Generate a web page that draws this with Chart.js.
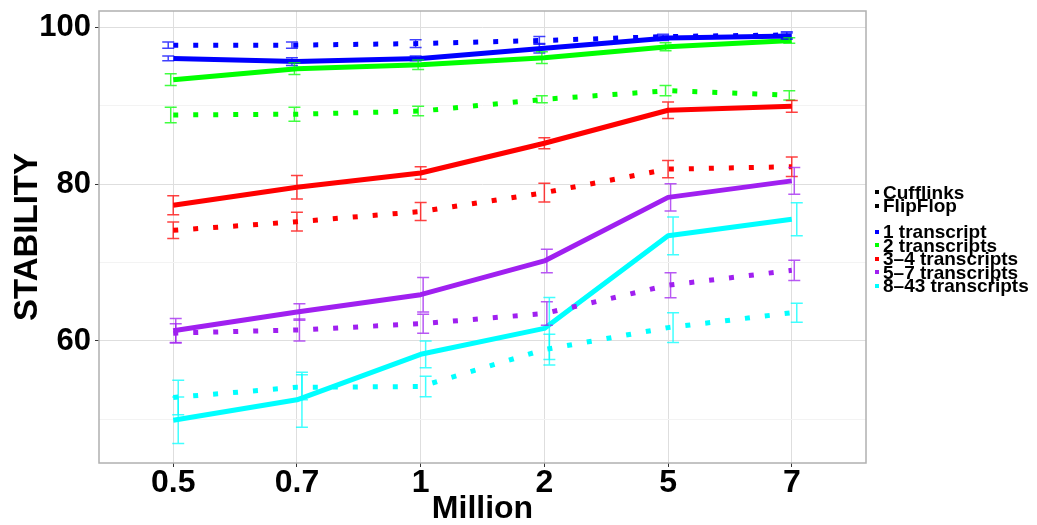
<!DOCTYPE html>
<html>
<head>
<meta charset="utf-8">
<script src="https://cdn.jsdelivr.net/npm/chart.js@4.4.0/dist/chart.umd.min.js"></script>
<style>
  body { margin: 0; background: #fff; }
  #wrap { position: relative; width: 1037px; height: 525px; font-family: 'Liberation Sans', Arial, sans-serif; }
  .key { position: absolute; left: 883px; font-weight: bold; font-size: 19px; line-height: 19px; white-space: nowrap; color: #000; }
  .sq { position: absolute; left: 875px; width: 4px; height: 4px; }
</style>
</head>
<body>
<div id="wrap">
  <canvas id="stabilityChart" width="1037" height="525"></canvas>
  <div id="legend"></div>
</div>
<script>
// Read-depth categories (x axis) and y axis ticks
const millions = ['0.5', '0.7', '1', '2', '5', '7'];
const yGrid = [50, 60, 70, 80, 90, 100];
const yLabels = [60, 80, 100];

const methods = ['Cufflinks', 'FlipFlop'];
const groups = ['1 transcript', '2 transcripts', '3–4 transcripts', '5–7 transcripts', '8–43 transcripts'];
const groupColors = ['#0000ff', '#00ff00', '#ff0000', '#a020f0', '#00ffff'];

// Cufflinks (solid) and FlipFlop (dotted) stability, with error half-widths
const cuff1 = [96.0, 95.6, 96.0, 97.3, 98.6, 98.85];
const cuff1Err = [0.3, 0.5, 0.3, 0.6, 0.3, 0.4];
const ff1 = [97.7, 97.7, 97.9, 98.3, 98.8, 99.0];
const ff1Err = [0.4, 0.4, 0.5, 0.5, 0.3, 0.4];

const cuff2 = [93.3, 94.7, 95.2, 96.1, 97.5, 98.3];
const cuff2Err = [0.75, 0.75, 0.6, 0.75, 0.5, 0.35];
const ff2 = [88.8, 88.9, 89.3, 90.8, 91.9, 91.3];
const ff2Err = [1.0, 0.9, 0.6, 0.45, 0.65, 0.6];

const cuff34 = [77.3, 79.6, 81.4, 85.2, 89.4, 89.9];
const cuff34Err = [1.2, 1.5, 0.8, 0.7, 1.05, 0.75];
const ff34 = [74.1, 75.2, 76.5, 78.9, 81.9, 82.2];
const ff34Err = [1.05, 1.2, 1.15, 1.2, 1.1, 1.25];

const cuff57 = [61.3, 63.7, 65.9, 70.2, 78.3, 80.4];
const cuff57Err = [1.55, 1.05, 2.2, 1.5, 1.75, 1.7];
const ff57 = [61.0, 61.4, 62.2, 63.5, 67.1, 69.0];
const ff57Err = [1.2, 1.4, 1.2, 1.5, 1.6, 1.3];

const cuff843 = [49.9, 52.5, 58.3, 61.6, 73.4, 75.5];
const cuff843Err = [2.95, 3.5, 1.7, 3.95, 2.4, 2.1];
const ff843 = [52.8, 54.1, 54.2, 58.9, 61.7, 63.6];
const ff843Err = [2.2, 1.6, 1.3, 1.95, 1.9, 1.2];

const cuffValues = [cuff1, cuff2, cuff34, cuff57, cuff843];
const cuffErrors = [cuff1Err, cuff2Err, cuff34Err, cuff57Err, cuff843Err];
const ffValues = [ff1, ff2, ff34, ff57, ff843];
const ffErrors = [ff1Err, ff2Err, ff34Err, ff57Err, ff843Err];

const FONT = "'Liberation Sans', Arial, sans-serif";
Chart.defaults.font.family = FONT;

// build datasets: one solid + one dotted line per transcript group
const datasets = [];
groups.forEach((g, k) => {
  const dodge = (k - 2) * 2.5;
  datasets.push({
    label: 'Cufflinks ' + g,
    data: cuffValues[k].map((v, i) => ({ x: i, y: v })),
    err: cuffErrors[k],
    dodge: dodge,
    borderColor: groupColors[k],
    borderWidth: 5,
    pointRadius: 0,
    tension: 0,
    borderJoinStyle: 'round'
  });
  datasets.push({
    label: 'FlipFlop ' + g,
    data: ffValues[k].map((v, i) => ({ x: i, y: v })),
    err: ffErrors[k],
    dodge: dodge,
    borderColor: groupColors[k],
    borderWidth: 5,
    borderDash: [5, 15],
    borderCapStyle: 'butt',
    pointRadius: 0,
    tension: 0
  });
});

const errorBars = {
  id: 'errorBars',
  afterDatasetsDraw(chart) {
    const { ctx, scales: { x, y } } = chart;
    ctx.save();
    ctx.lineWidth = 1.5;
    ctx.globalAlpha = 0.75;
    chart.data.datasets.forEach(ds => {
      ctx.strokeStyle = ds.borderColor;
      ds.data.forEach((p, i) => {
        const px = x.getPixelForValue(p.x) + ds.dodge;
        const top = y.getPixelForValue(p.y + ds.err[i]);
        const bot = y.getPixelForValue(p.y - ds.err[i]);
        ctx.beginPath();
        ctx.moveTo(px, top); ctx.lineTo(px, bot);
        ctx.moveTo(px - 6, top); ctx.lineTo(px + 6, top);
        ctx.moveTo(px - 6, bot); ctx.lineTo(px + 6, bot);
        ctx.stroke();
      });
    });
    ctx.restore();
  }
};

const panelBorder = {
  id: 'panelBorder',
  afterDraw(chart) {
    const { ctx, chartArea: a } = chart;
    ctx.save();
    ctx.strokeStyle = '#b0b0b0';
    ctx.lineWidth = 1.5;
    ctx.strokeRect(a.left, a.top, a.right - a.left, a.bottom - a.top);
    ctx.restore();
  }
};

new Chart(document.getElementById('stabilityChart'), {
  type: 'line',
  data: { datasets },
  plugins: [errorBars, panelBorder],
  options: {
    responsive: false,
    devicePixelRatio: 1,
    animation: false,
    layout: { padding: { left: 0, right: 171, top: 11, bottom: 0 } },
    plugins: { legend: { display: false }, tooltip: { enabled: false } },
    scales: {
      x: {
        type: 'linear',
        min: -0.6,
        max: 5.6,
        afterBuildTicks: s => { s.ticks = millions.map((_, i) => ({ value: i })); },
        afterFit: s => { s.height = 62; s.paddingLeft = 0; s.paddingRight = 0; },
        ticks: {
          callback: v => millions[v],
          font: { size: 32, weight: 'bold' },
          color: '#000',
          padding: -3,
          maxRotation: 0,
          autoSkip: false
        },
        grid: { color: '#dedede', lineWidth: 1, tickLength: 4, tickColor: '#333' },
        border: { display: false },
        title: {
          display: true,
          text: 'Million',
          color: '#000',
          font: { size: 32, weight: 'bold' },
          padding: { top: 0, bottom: -3 }
        }
      },
      y: {
        type: 'linear',
        min: 44.45,
        max: 102.05,
        afterBuildTicks: s => { s.ticks = yGrid.map(v => ({ value: v })); },
        afterFit: s => { s.width = 99; s.paddingTop = 0; s.paddingBottom = 0; },
        ticks: {
          callback: v => yLabels.includes(v) ? String(v) : '',
          font: { size: 31, weight: 'bold' },
          color: '#000',
          padding: 4
        },
        grid: {
          color: c => (c.tick && yLabels.includes(c.tick.value)) ? '#dedede' : '#f3f3f3',
          tickColor: c => (c.tick && yLabels.includes(c.tick.value)) ? '#333' : 'rgba(0,0,0,0)',
          lineWidth: 1,
          tickLength: 4
        },
        border: { display: false },
        title: {
          display: true,
          text: 'STABILITY',
          color: '#000',
          font: { size: 33, weight: 'bold' },
          padding: { top: 8, bottom: 0 }
        }
      }
    }
  }
});

// legend: method keys (black) then transcript group keys (coloured)
const legend = document.getElementById('legend');
function addKey(text, color, baseline) {
  const t = document.createElement('div');
  t.className = 'key';
  t.style.top = (baseline - 16.1) + 'px';
  t.textContent = text;
  legend.appendChild(t);
  const s = document.createElement('div');
  s.className = 'sq';
  s.style.background = color;
  s.style.top = (baseline - 9) + 'px';
  legend.appendChild(s);
}
methods.forEach((m, i) => addKey(m, '#000', 199 + i * 13.5));
groups.forEach((g, i) => addKey(g, groupColors[i], 238.5 + i * 13.5));
</script>
</body>
</html>
